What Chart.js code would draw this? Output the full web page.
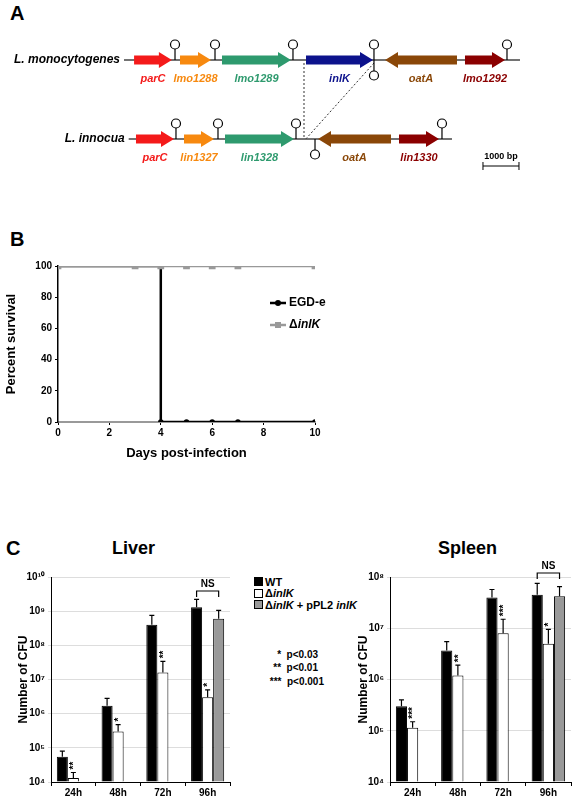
<!DOCTYPE html>
<html><head><meta charset="utf-8">
<script src="https://cdn.jsdelivr.net/npm/chart.js@4.4.1/dist/chart.umd.min.js"></script>
<style>
body{margin:0;width:580px;height:800px;position:relative;background:#fff;font-family:"Liberation Sans",Arial,sans-serif;overflow:hidden}
.abs{position:absolute}
.box{position:absolute}
.lt{font-weight:bold;font-size:20px}
.tt{font-weight:bold;font-size:18px}
.lg{font-weight:bold;font-size:11px;display:flex;align-items:center;height:11.5px;white-space:pre}
.sq{width:9px;height:9px;border:1px solid #000;margin-right:2px;box-sizing:border-box}
.pv{font-weight:bold;font-size:10px;white-space:pre}
</style></head><body>
<div class="abs lt" style="left:10px;top:2px">A</div>
<div class="abs lt" style="left:10px;top:228px">B</div>
<div class="abs lt" style="left:6px;top:537px">C</div>
<div class="abs tt" style="left:112px;top:538px">Liver</div>
<div class="abs tt" style="left:438px;top:538px">Spleen</div>
<div class="abs" style="left:254px;top:576px">
 <div class="lg"><div class="sq" style="background:#000"></div><span>WT</span></div>
 <div class="lg"><div class="sq" style="background:#fff"></div><span>Δ<i>inlK</i></span></div>
 <div class="lg"><div class="sq" style="background:#999"></div><span>Δ<i>inlK</i> + pPL2 <i>inlK</i></span></div>
</div>
<div class="abs pv" style="left:262px;top:649px;text-align:right;width:56px">*  p&lt;0.03</div>
<div class="abs pv" style="left:262px;top:662px;text-align:right;width:56px">**  p&lt;0.01</div>
<div class="abs pv" style="left:262px;top:676px;text-align:right;width:62px">***  p&lt;0.001</div>

<div class="box" style="left:0;top:0;width:580px;height:200px"><canvas id="cA"></canvas></div>
<div class="box" style="left:0;top:255px;width:340px;height:210px"><canvas id="cB"></canvas></div>
<div class="box" style="left:12px;top:540px;width:228px;height:260px"><canvas id="cL"></canvas></div>
<div class="box" style="left:352px;top:540px;width:228px;height:260px"><canvas id="cS"></canvas></div>
<script>
// ---------- Panel A data (bp) ----------
const monoNames=["parC","lmo1288","lmo1289","inlK","oatA","lmo1292"];
const monoStart=[30,1306,2472,4806,7000,9222];
const monoEnd=[1080,2167,4389,6667,9000,10333];
const monoDir=[1,1,1,1,-1,1];
const monoTermPos=[1167,2278,4444,6694,6694,10389];
const monoTermDir=[1,1,1,1,-1,1];
const monoLine=[-250,10750];
const innNames=["parC","lin1327","lin1328","oatA","lin1330"];
const innStart=[83,1417,2556,5139,7389];
const innEnd=[1139,2250,4472,7167,8500];
const innDir=[1,1,1,-1,1];
const innTermPos=[1194,2361,4528,5056,8583];
const innTermDir=[1,1,1,-1,1];
const innLine=[-120,8861];
const geneColors=["#f41a1a","#f7890f","#2e9a6e","#0c128c","#8a4708","#8b0000"];
const innColors=["#f41a1a","#f7890f","#2e9a6e","#8a4708","#8b0000"];
const scaleBar=[9722,10722];

// ---------- Panel B data ----------
const egdX=[0,4,4,5,6,7,10];
const egdY=[100,100,0,0,0,0,0];
const inlkX=[0,3,4,5,6,7,10];
const inlkY=[100,100,100,100,100,100,100];

// ---------- Panel C data ----------
const timepoints=["24h","48h","72h","96h"];
const liverWT=[5.5e4,1.7e6,4e8,1.3e9];
const liverWTerr=[8e4,2.8e6,7.5e8,2.2e9];
const liverKO=[1.3e4,3e5,1.6e7,3e6];
const liverKOerr=[1.9e4,4.8e5,3.4e7,5e6];
const liverComp=[null,null,null,6e8];
const liverComperr=[null,null,null,1.05e9];
const liverStars=["**","*","**","*"];
const spleenWT=[3e5,3.7e6,4e7,4.5e7];
const spleenWTerr=[4e5,5.5e6,5.7e7,7.5e7];
const spleenKO=[1.15e5,1.2e6,8e6,5e6];
const spleenKOerr=[1.5e5,1.9e6,1.5e7,9.5e6];
const spleenComp=[null,null,null,4.2e7];
const spleenComperr=[null,null,null,6.5e7];
const spleenStars=["***","**","***","*"];

const F='"Liberation Sans", Arial, sans-serif';
Chart.defaults.font.family=F;
Chart.defaults.color='#000';
Chart.defaults.animation=false;

// ---------- Panel A ----------
function arrow(ctx,x1,x2,y,dir,color){
  const hl=Math.min(13,Math.abs(x2-x1)*0.5), bh=9, hh=16;
  ctx.fillStyle=color;ctx.beginPath();
  if(dir>0){
    ctx.moveTo(x1,y-bh/2);ctx.lineTo(x2-hl,y-bh/2);ctx.lineTo(x2-hl,y-hh/2);ctx.lineTo(x2,y);
    ctx.lineTo(x2-hl,y+hh/2);ctx.lineTo(x2-hl,y+bh/2);ctx.lineTo(x1,y+bh/2);
  }else{
    ctx.moveTo(x2,y-bh/2);ctx.lineTo(x1+hl,y-bh/2);ctx.lineTo(x1+hl,y-hh/2);ctx.lineTo(x1,y);
    ctx.lineTo(x1+hl,y+hh/2);ctx.lineTo(x1+hl,y+bh/2);ctx.lineTo(x2,y+bh/2);
  }
  ctx.closePath();ctx.fill();
}
function term(ctx,x,y,d){
  ctx.strokeStyle='#000';ctx.lineWidth=1.2;ctx.fillStyle='#fff';
  ctx.beginPath();ctx.moveTo(x,y);ctx.lineTo(x,y-d*11);ctx.stroke();
  ctx.beginPath();ctx.arc(x,y-d*15.5,4.5,0,Math.PI*2);ctx.fill();ctx.stroke();
}
const mapPlugin={id:'map',afterDraw(ch){
  const ctx=ch.ctx,xs=ch.scales.x;const X=v=>xs.getPixelForValue(v);
  const rows=[
    {y:60,line:monoLine,n:monoNames,s:monoStart,e:monoEnd,d:monoDir,c:geneColors,tp:monoTermPos,td:monoTermDir,label:"L. monocytogenes"},
    {y:139,line:innLine,n:innNames,s:innStart,e:innEnd,d:innDir,c:innColors,tp:innTermPos,td:innTermDir,label:"L. innocua"}];
  ctx.save();
  ctx.setLineDash([2,2]);ctx.strokeStyle='#333';ctx.lineWidth=1;
  ctx.beginPath();ctx.moveTo(X(4750),63);ctx.lineTo(X(4750),139);ctx.stroke();
  ctx.beginPath();ctx.moveTo(X(6694),63);ctx.lineTo(X(4800),139);ctx.stroke();
  ctx.setLineDash([]);
  rows.forEach(r=>{
    ctx.strokeStyle='#444';ctx.lineWidth=1.3;
    ctx.beginPath();ctx.moveTo(X(r.line[0]),r.y);ctx.lineTo(X(r.line[1]),r.y);ctx.stroke();
    r.n.forEach((nm,i)=>{
      arrow(ctx,X(r.s[i]),X(r.e[i]),r.y,r.d[i],r.c[i]);
      ctx.fillStyle=r.c[i];ctx.font='italic bold 11px '+F;ctx.textAlign='center';ctx.textBaseline='middle';
      ctx.fillText(nm,(X(r.s[i])+X(r.e[i]))/2,r.y+19);
    });
    r.tp.forEach((p,i)=>term(ctx,X(p),r.y,r.td[i]));
    ctx.fillStyle='#000';ctx.font='italic bold 12px '+F;ctx.textAlign='right';
    ctx.fillText(r.label,X(r.line[0])-4,r.y);
  });
  ctx.strokeStyle='#000';ctx.lineWidth=1;
  const y=166;ctx.beginPath();ctx.moveTo(X(scaleBar[0]),y);ctx.lineTo(X(scaleBar[1]),y);
  ctx.moveTo(X(scaleBar[0]),y-4);ctx.lineTo(X(scaleBar[0]),y+4);ctx.moveTo(X(scaleBar[1]),y-4);ctx.lineTo(X(scaleBar[1]),y+4);ctx.stroke();
  ctx.fillStyle='#000';ctx.font='bold 9px '+F;ctx.textAlign='center';
  ctx.fillText('1000 bp',(X(scaleBar[0])+X(scaleBar[1]))/2,y-9);
  ctx.restore();
}};
new Chart(document.getElementById('cA'),{type:'scatter',data:{datasets:[{data:[]}]},
 options:{responsive:true,maintainAspectRatio:false,layout:{padding:{left:133,right:27,top:0,bottom:0}},
  plugins:{legend:{display:false},tooltip:{enabled:false}},
  scales:{x:{type:'linear',min:0,max:11667,display:false},y:{display:false,min:0,max:1}}},
 plugins:[mapPlugin]});

// ---------- Panel B ----------
const legB={id:'legB',afterDraw(ch){
  const ctx=ch.ctx;ctx.save();
  const items=[['EGD-e','#000','circle',48],['ΔinlK','#999','rect',70]];
  items.forEach(([t,c,s,y])=>{
    ctx.strokeStyle=c;ctx.fillStyle=c;ctx.lineWidth=2.5;
    ctx.beginPath();ctx.moveTo(270,y);ctx.lineTo(286,y);ctx.stroke();
    if(s==='circle'){ctx.beginPath();ctx.arc(278,y,3,0,Math.PI*2);ctx.fill();}else ctx.fillRect(275,y-3,6,6);
    ctx.fillStyle='#000';ctx.textBaseline='middle';ctx.textAlign='left';
    if(t==='EGD-e'){ctx.font='bold 12px '+F;ctx.fillText(t,289,y);}
    else{ctx.font='bold 12px '+F;ctx.fillText('Δ',289,y);const w=ctx.measureText('Δ').width;ctx.font='italic bold 12px '+F;ctx.fillText('inlK',289+w,y);}
  });
  ctx.restore();
}};
new Chart(document.getElementById('cB'),{type:'line',
 data:{datasets:[
  {label:'ΔinlK',data:inlkX.map((x,i)=>({x,y:inlkY[i]})),borderColor:'#999',backgroundColor:'#999',borderWidth:2.5,pointStyle:'rect',pointRadius:3,order:1},
  {label:'EGD-e',data:egdX.map((x,i)=>({x,y:egdY[i]})),borderColor:'#000',backgroundColor:'#000',borderWidth:2.5,pointRadius:[0,0,1.5,1.5,1.5,1.5,1.5],order:2}]},
 options:{responsive:true,maintainAspectRatio:false,layout:{padding:{left:0,right:25,top:11,bottom:0}},
  plugins:{legend:{display:false},tooltip:{enabled:false}},
  scales:{
   x:{type:'linear',min:0,max:10,ticks:{stepSize:2,font:{size:10,weight:'bold'},padding:2},
      grid:{display:true,drawOnChartArea:false,tickLength:3,color:'#000'},border:{color:'#999',width:2},
      title:{display:true,text:'Days post-infection',font:{size:13,weight:'bold'},padding:{top:8}},
      afterFit(s){s.height=43;}},
   y:{min:0,max:100,ticks:{stepSize:20,font:{size:10,weight:'bold'},padding:3},
      grid:{display:true,drawOnChartArea:false,tickLength:3,color:'#000'},border:{color:'#000',width:1.5},
      title:{display:true,text:'Percent survival',font:{size:13,weight:'bold'},padding:{bottom:6}},
      afterFit(s){s.width=58;}}}},
 plugins:[legB]});

// ---------- Panel C ----------
const sup={'0':'⁰','1':'¹','2':'²','3':'³','4':'⁴','5':'⁵','6':'⁶','7':'⁷','8':'⁸','9':'⁹'};
function errPlugin(errs,stars,nsY){return {id:'err',afterDatasetsDraw(ch){
  const ctx=ch.ctx,ys=ch.scales.y;ctx.save();ctx.strokeStyle='#000';ctx.lineWidth=1.2;
  ch.data.datasets.forEach((ds,di)=>{
    const meta=ch.getDatasetMeta(di);
    meta.data.forEach((bar,i)=>{
      const v=ds.data[i],e=errs[di][i];if(v==null||e==null)return;
      const y0=ys.getPixelForValue(v),y1=ys.getPixelForValue(e),x=bar.x;
      ctx.beginPath();ctx.moveTo(x,y0);ctx.lineTo(x,y1);ctx.moveTo(x-2.5,y1);ctx.lineTo(x+2.5,y1);ctx.stroke();
      if(di===1){ctx.save();ctx.translate(x,y1-3);ctx.rotate(-Math.PI/2);ctx.fillStyle='#000';
        ctx.font='bold 10px '+F;ctx.textAlign='left';ctx.textBaseline='middle';ctx.fillText(stars[i],0,1);ctx.restore();}
    });
  });
  const a=ch.getDatasetMeta(0).data[3].x,b=ch.getDatasetMeta(2).data[3].x;
  const yb=ch.chartArea.top+nsY;
  ctx.beginPath();ctx.moveTo(a,yb+6);ctx.lineTo(a,yb);ctx.lineTo(b,yb);ctx.lineTo(b,yb+6);ctx.stroke();
  ctx.fillStyle='#000';ctx.font='bold 10px '+F;ctx.textAlign='center';ctx.textBaseline='bottom';ctx.fillText('NS',(a+b)/2,yb-2);
  ctx.restore();
}};}
function barChart(id,wt,ko,comp,errs,stars,min,max,rightPad,axisW,nsY){
  new Chart(document.getElementById(id),{type:'bar',
   data:{labels:timepoints,datasets:[
    {data:wt,backgroundColor:'#000',borderColor:'#000',borderWidth:1},
    {data:ko,backgroundColor:'#fff',borderColor:'#000',borderWidth:1},
    {data:comp,backgroundColor:'#999',borderColor:'#000',borderWidth:1}]},
   options:{responsive:true,maintainAspectRatio:false,layout:{padding:{left:0,right:rightPad,top:37,bottom:0}},
    plugins:{legend:{display:false},tooltip:{enabled:false}},
    datasets:{bar:{categoryPercentage:0.74,barPercentage:1,base:min}},
    scales:{
     x:{ticks:{font:{size:10,weight:'bold'},padding:1},grid:{offset:true,drawOnChartArea:false,tickLength:4,color:'#000'},
        border:{color:'#000',width:1},afterFit(s){s.height=18;}},
     y:{type:'logarithmic',min,max,
        afterBuildTicks(s){const t=[];for(let p=Math.log10(min);p<=Math.log10(max);p++)t.push({value:Math.pow(10,p)});s.ticks=t;},
        ticks:{font:{size:10,weight:'bold'},padding:3,callback:v=>'10'+String(Math.round(Math.log10(v))).split('').map(c=>sup[c]).join('')},
        grid:{color:'#ddd',tickLength:3},border:{color:'#000',width:1},
        title:{display:true,text:'Number of CFU',font:{size:12,weight:'bold'},padding:{bottom:2}},
        afterFit(s){s.width=axisW;}}}},
   plugins:[errPlugin(errs,stars,nsY)]});
}
barChart('cL',liverWT,liverKO,liverComp,[liverWTerr,liverKOerr,liverComperr],liverStars,1e4,1e10,10,39,14);
barChart('cS',spleenWT,spleenKO,spleenComp,[spleenWTerr,spleenKOerr,spleenComperr],spleenStars,1e4,1e8,9,38,-4);
</script></body></html>
